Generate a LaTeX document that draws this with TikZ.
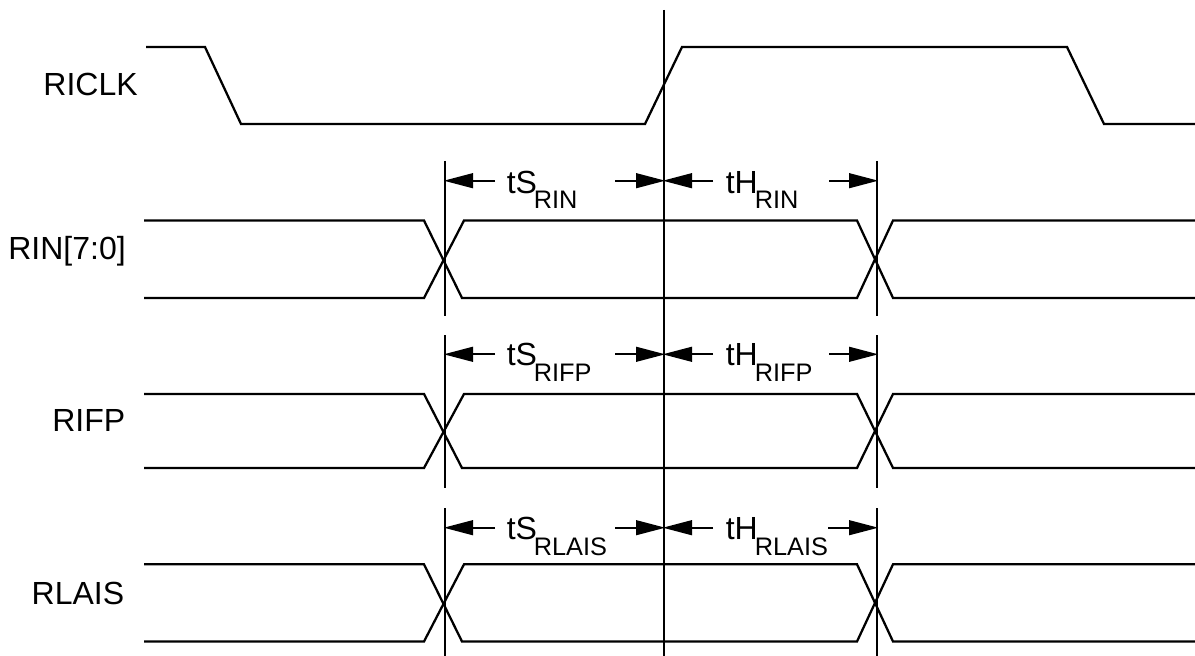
\documentclass[tikz,border=0pt]{standalone}
\usepackage{fontspec}
\setmainfont{Liberation Sans}
\usetikzlibrary{arrows.meta}
\tikzset{
  wave/.style={line width=1.7pt,line join=miter},
  vline/.style={line width=1.7pt},
  dim/.style={line width=1.7pt,-{Triangle[length=22pt,width=11pt]},shorten >=-1pt},
  lbl/.style={font=\fontsize{24pt}{28pt}\selectfont,inner sep=0pt},
  sub/.style={font=\fontsize{19pt}{22pt}\selectfont,inner sep=0pt},
}
\begin{document}
\begin{tikzpicture}[x=0.75pt,y=-0.75pt]
\useasboundingbox[fill=white] (0,0) rectangle (1195,656);
\newcommand{\busrow}[2]{%
 \draw[wave] (144,#1) -- (424,#1) -- (462,#2) -- (857,#2) -- (893,#1) -- (1195,#1);
 \draw[wave] (144,#2) -- (424,#2) -- (464,#1) -- (857,#1) -- (893,#2) -- (1195,#2);
}
\draw[wave] (146,47) -- (205,47) -- (241,124) -- (645,124) -- (682,47) -- (1067,47) -- (1104,124) -- (1195,124);
\busrow{220.5}{298}
\busrow{394}{468}
\busrow{564.3}{641.5}
\coordinate (c1) at (664,10); \coordinate (c2) at (664,656);
\draw[vline] (c1) -- (c2);
\coordinate (s1) at (445,161); \coordinate (s1b) at (445,316);
\coordinate (h1) at (877,161); \coordinate (h1b) at (877,316);
\coordinate (s2) at (445,335); \coordinate (s2b) at (445,488);
\coordinate (h2) at (877,335); \coordinate (h2b) at (877,488);
\coordinate (s3) at (445,508); \coordinate (s3b) at (445,656);
\coordinate (h3) at (877,508); \coordinate (h3b) at (877,656);
\foreach \a/\b in {s1/s1b,h1/h1b,s2/s2b,h2/h2b,s3/s3b,h3/h3b} \draw[vline] (\a) -- (\b);
\node[lbl,anchor=base east] (n1) at (138,96) {RICLK};
\node[lbl,anchor=base east] (n2) at (126,259.5) {RIN[7:0]};
\node[lbl,anchor=base east] (n3) at (125.5,431.7) {RIFP};
\node[lbl,anchor=base east] (n4) at (124.5,604) {RLAIS};
\foreach \y/\bm/\bs/\t/\e/\f [count=\i] in {180.7/193/208/RIN/615/829,354.3/365.5/381/RIFP/615/829,527.7/539/555/RLAIS/615/828}{
 \node[lbl,anchor=base west] (ts\i) at (506.5,\bm) {tS};
 \node[sub,anchor=base west] (tss\i) at (533.5,\bs) {\t};
 \node[lbl,anchor=base west] (th\i) at (725.5,\bm) {tH};
 \node[sub,anchor=base west] (ths\i) at (754.5,\bs) {\t};
 \coordinate (La\i) at (445,\y); \coordinate (Ma\i) at (664,\y); \coordinate (Ra\i) at (877,\y);
 \coordinate (pa\i) at (495,\y); \coordinate (pb\i) at (\e,\y); \coordinate (pc\i) at (713,\y); \coordinate (pd\i) at (\f,\y);
 \draw[dim] (pa\i) -- (La\i);
 \draw[dim] (pb\i) -- (Ma\i);
 \draw[dim] (pc\i) -- (Ma\i);
 \draw[dim] (pd\i) -- (Ra\i);
}
\end{tikzpicture}
\end{document}
